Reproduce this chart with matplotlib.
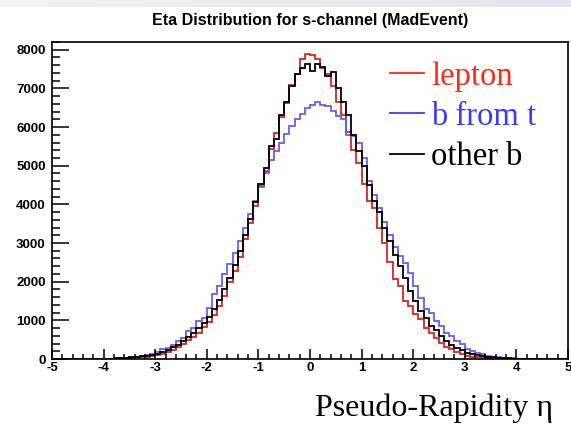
import matplotlib
matplotlib.use("Agg")
import matplotlib.pyplot as plt
import numpy as np
from matplotlib.lines import Line2D
from matplotlib.ticker import MultipleLocator

# ── Histogram contents: 100 bins of width 0.1 over eta in [-5, 5] ────────────
ETA_LO, ETA_HI, N_BINS = -5.0, 5.0, 100

# left edges -5.0 ... -4.4 are empty for every sample
PAD_LEFT = [0, 0, 0, 0, 0, 0, 0]
# right edges 4.3 ... 4.9 are empty as well
PAD_RIGHT = [0, 0, 0, 0, 0, 0, 0]

# bins with left edge -4.3 ... 4.2 (86 bins)
lepton = [
    0, 0, 3, 5, 8, 12, 16, 22, 30, 40,
    50, 60, 75, 95, 125, 180, 240, 310, 400, 480,
    580, 680, 820, 960, 1130, 1380, 1640, 1980, 2280, 2650,
    3100, 3520, 3950, 4470, 4870, 5440, 5850, 6270, 6620, 7100,
    7380, 7750, 7880, 7870, 7760, 7530, 7380, 7060, 6640, 6300,
    5880, 5400, 5080, 4520, 4100, 3900, 3390, 3000, 2500, 2080,
    1890, 1500, 1370, 1160, 1030, 810, 680, 540, 420, 310,
    250, 170, 120, 85, 60, 40, 30, 20, 12, 8,
    5, 3, 2, 0, 0, 0,
]
b_from_t = [
    4, 3, 5, 8, 12, 18, 25, 35, 45, 60,
    80, 100, 140, 190, 255, 290, 360, 465, 550, 720,
    810, 980, 1070, 1330, 1680, 1890, 2190, 2450, 2750, 3050,
    3400, 3750, 4100, 4450, 4800, 5150, 5370, 5600, 5810, 6020,
    6200, 6330, 6490, 6560, 6660, 6560, 6540, 6410, 6280, 6200,
    5800, 5760, 5580, 5200, 4600, 4250, 3900, 3550, 3200, 2900,
    2660, 2490, 2230, 1890, 1580, 1290, 1200, 980, 850, 680,
    590, 465, 390, 255, 210, 160, 125, 80, 60, 45,
    35, 25, 18, 12, 8, 5,
]
other_b = [
    0, 3, 5, 8, 12, 17, 23, 30, 40, 52,
    65, 80, 100, 130, 170, 230, 300, 370, 460, 560,
    670, 800, 930, 1090, 1290, 1520, 1800, 2100, 2420, 2800,
    3200, 3620, 4050, 4520, 4950, 5500, 5700, 6300, 6650, 7050,
    7380, 7530, 7620, 7450, 7620, 7560, 7310, 7430, 7000, 6650,
    6300, 5800, 5370, 5000, 4500, 4100, 3800, 3400, 3050, 2700,
    2400, 2100, 1760, 1500, 1240, 1070, 850, 750, 590, 465,
    360, 290, 230, 165, 125, 95, 75, 55, 40, 30,
    22, 15, 10, 6, 4, 2,
]

labels = ["lepton", "b from t", "other b"]
hist_colors = ["#d8261c", "#6a5cf5", "#000000"]
legend_colors = ["#ff2a14", "#3b3bff", "#000000"]

edges = np.linspace(ETA_LO, ETA_HI, N_BINS + 1)
series = [PAD_LEFT + s + PAD_RIGHT for s in (lepton, b_from_t, other_b)]

# ── Figure ───────────────────────────────────────────────────────────────────
fig = plt.figure(figsize=(5.71, 4.24), dpi=100)

# faint slide banner along the top edge
band = fig.add_axes([0, 1 - 7 / 424, 1, 7 / 424])
band.imshow(np.linspace(0, 1, 256)[None, :], aspect="auto", cmap=matplotlib.colors.LinearSegmentedColormap.from_list(
    "band", ["#f2f2f2", "#ececec", "#e4e4f2"]), extent=(0, 1, 0, 1))
band.axis("off")

ax = fig.add_axes([52 / 571, 1 - 359 / 424, 516 / 571, 317 / 424])

for vals, col in zip(series, hist_colors):
    ax.stairs(vals, edges, color=col, lw=1.3)

ax.set_xlim(ETA_LO, ETA_HI)
ax.set_ylim(0, 8200)

ax.xaxis.set_major_locator(MultipleLocator(1))
ax.xaxis.set_minor_locator(MultipleLocator(0.2))
ax.yaxis.set_major_locator(MultipleLocator(1000))
ax.yaxis.set_minor_locator(MultipleLocator(200))

tick_font = dict(family="Liberation Sans", weight="bold", size=9.5)
ax.tick_params(axis="both", which="both", direction="in", width=1.1,
               top=False, right=False)
ax.tick_params(axis="y", which="major", length=12, pad=4.5)
ax.tick_params(axis="y", which="minor", length=6)
ax.tick_params(axis="x", which="major", length=7, pad=2.5)
ax.tick_params(axis="x", which="minor", length=3.5)
ax.set_xticklabels([f"{v:g}" for v in ax.get_xticks()], fontdict=tick_font)
ax.set_yticklabels([f"{int(v)}" for v in ax.get_yticks()], fontdict=tick_font)

for sp in ax.spines.values():
    sp.set_linewidth(1.2)

ax.set_title("Eta Distribution for s-channel (MadEvent)",
             family="Liberation Sans", weight="bold", size=11.5, pad=12)

handles = [Line2D([], [], color=c, lw=1.3) for c in legend_colors]
leg = ax.legend(handles, labels, loc="upper left", bbox_to_anchor=(0.655, 0.94),
                frameon=False, prop=dict(family="Liberation Serif", size=23.5),
                handlelength=1.05, handletextpad=0.22, labelspacing=0.3,
                borderaxespad=0, borderpad=0)
for txt, c in zip(leg.get_texts(), legend_colors):
    txt.set_color(c)

fig.text(553 / 571, 1 - 408 / 424, "Pseudo-Rapidity η",
         family="Liberation Serif", size=23, ha="right", va="center")

fig.savefig("out.png", dpi=100)
